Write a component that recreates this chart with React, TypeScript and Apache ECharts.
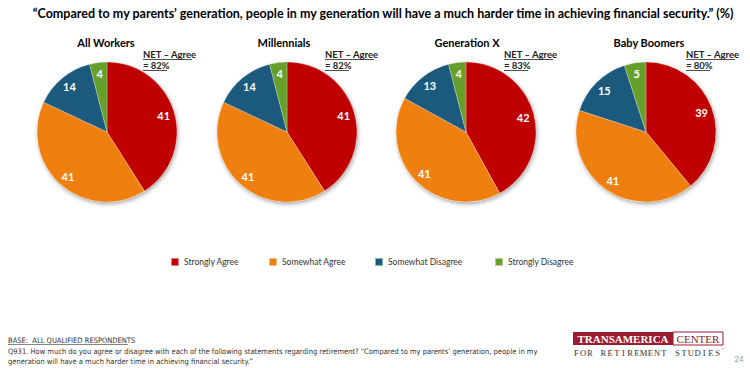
import React, { useEffect, useRef } from "react";
import * as echarts from "echarts";

const categories = ["Strongly Agree", "Somewhat Agree", "Somewhat Disagree", "Strongly Disagree"];
const groups = ["All Workers", "Millennials", "Generation X", "Baby Boomers"];
const allWorkers = [41, 41, 14, 4];
const millennials = [41, 41, 14, 4];
const generationX = [42, 41, 13, 4];
const babyBoomers = [39, 41, 15, 5];
const netAgree = [82, 82, 83, 80];
const groupValues = [allWorkers, millennials, generationX, babyBoomers];

const titleText =
  "\u201cCompared to my parents\u2019 generation, people in my generation will have a much harder time in achieving financial security.\u201d (%)";
const baseText = "BASE:  ALL QUALIFIED RESPONDENTS";
const questionLine1 =
  "Q931. How much do you agree or disagree with each of the following statements regarding retirement? \u201cCompared to my parents\u2019 generation, people in my";
const questionLine2 = "generation will have a much harder time in achieving financial security.\u201d";

const colors = ["#C00000", "#EF7F0F", "#1C5A7D", "#66A02B"];
const centersX = [107, 287, 466, 646];
const netX = [143, 325, 504, 686];
const titleX = [106, 284, 467, 649];
const legendX = [170, 268, 374, 494];
const CY = 132;
const R = 70;
const FONT = "Lato, 'Open Sans', sans-serif";
const NARROW = "'Liberation Sans Narrow', 'DejaVu Sans Condensed', sans-serif";

function txt(x: number, y: number, text: string, font: string, fill: string, align = "left", vAlign = "middle") {
  return {
    type: "text",
    x,
    y,
    silent: true,
    style: {
      text,
      font,
      fill,
      textAlign: align,
      align,
      textVerticalAlign: vAlign,
      verticalAlign: vAlign,
    },
  };
}

function line(x1: number, y1: number, x2: number, y2: number, stroke: string, w = 0.8) {
  return {
    type: "line",
    silent: true,
    shape: { x1, y1, x2, y2 },
    style: { stroke, lineWidth: w },
  };
}

export default function App() {
  const ref = useRef<HTMLDivElement>(null);

  useEffect(() => {
    if (!ref.current) return;
    const chart = echarts.init(ref.current, null, { renderer: "svg" });

    const series: any[] = [];
    groupValues.forEach((vals, gi) => {
      const center = [centersX[gi], CY];
      series.push({
        type: "pie",
        name: "bg" + gi,
        silent: true,
        radius: R,
        center,
        label: { show: false },
        labelLine: { show: false },
        itemStyle: {
          color: "#ffffff",
          shadowBlur: 4,
          shadowOffsetX: 1,
          shadowOffsetY: 2,
          shadowColor: "rgba(0,0,0,0.35)",
        },
        data: [{ value: 1, name: "_bg" }],
      });
      series.push({
        type: "pie",
        name: groups[gi],
        silent: true,
        radius: R,
        center,
        startAngle: 90,
        clockwise: true,
        label: { show: false },
        labelLine: { show: false },
        itemStyle: { borderColor: "rgba(255,255,255,0.5)", borderWidth: 0.5 },
        data: categories.map((c, i) => ({ name: c, value: vals[i], itemStyle: { color: colors[i] } })),
      });
      series.push({
        type: "pie",
        name: groups[gi] + " labels",
        silent: true,
        radius: [42, R],
        center,
        startAngle: 90,
        clockwise: true,
        itemStyle: { color: "rgba(0,0,0,0)" },
        label: {
          show: true,
          position: "inside",
          formatter: "{c}",
          color: "#ffffff",
          fontSize: 11,
          fontWeight: "bold",
          fontFamily: FONT,
        },
        labelLine: { show: false },
        data: categories.map((c, i) => ({ name: c, value: vals[i] })),
      });
    });

    const graphics: any[] = [];
    graphics.push(txt(383, 13, titleText, `bold 12.5px ${FONT}`, "#000000", "center"));
    groups.forEach((g, gi) => {
      graphics.push(txt(titleX[gi], 42, g, `bold 11px ${FONT}`, "#000000", "center"));
      const l1 = "NET \u2013 Agree";
      const l2 = "= " + netAgree[gi] + "%";
      graphics.push(txt(netX[gi], 54, l1, `bold 9.5px ${FONT}`, "#222222", "left"));
      graphics.push(txt(netX[gi], 65, l2, `bold 9.5px ${FONT}`, "#222222", "left"));
      graphics.push(line(netX[gi], 59.5, netX[gi] + 49, 59.5, "#222222", 0.8));
      graphics.push(line(netX[gi], 70.5, netX[gi] + 24, 70.5, "#222222", 0.8));
    });

    // footer
    graphics.push(txt(8, 340, baseText, `7.5px ${NARROW}`, "#333333", "left"));
    graphics.push(line(8, 344.5, 128, 344.5, "#333333", 0.6));
    graphics.push(txt(8, 351, questionLine1, `7.5px ${NARROW}`, "#333333", "left"));
    graphics.push(txt(8, 361, questionLine2, `7.5px ${NARROW}`, "#333333", "left"));

    // logo
    graphics.push({
      type: "rect",
      silent: true,
      shape: { x: 573, y: 332, width: 100, height: 13 },
      style: { fill: "#9B1B30" },
    });
    graphics.push({
      type: "rect",
      silent: true,
      shape: { x: 673, y: 332, width: 50, height: 13 },
      style: { fill: "#ffffff", stroke: "#9B1B30", lineWidth: 1 },
    });
    graphics.push(txt(623, 339, "TRANSAMERICA", `bold 11px 'Liberation Serif', serif`, "#ffffff", "center"));
    graphics.push(txt(698, 339, "CENTER", `11px 'Liberation Serif', serif`, "#8B1A2B", "center"));
    const sub = "FOR RETIREMENT STUDIES";
    const pitch = 148 / sub.length;
    for (let i = 0; i < sub.length; i++) {
      if (sub[i] === " ") continue;
      graphics.push(
        txt(573 + pitch * (i + 0.5), 353, sub[i], `8.5px 'Liberation Serif', serif`, "#333333", "center")
      );
    }
    graphics.push(txt(723, 350, "\u2019", `7px 'Liberation Serif', serif`, "#444444", "center"));
    graphics.push(txt(739, 359, "24", `8px ${FONT}`, "#9a9a9a", "center"));

    chart.setOption({
      animation: false,
      backgroundColor: "#ffffff",
      legend: categories.map((c, i) => ({
        left: legendX[i],
        top: 257,
        padding: 0,
        icon: "rect",
        itemWidth: 8,
        itemHeight: 8,
        selectedMode: false,
        textStyle: { fontSize: 8.5, color: "#333333", fontFamily: FONT },
        data: [{ name: c, itemStyle: { color: colors[i] } }],
      })),
      series,
      graphic: { elements: graphics },
    });

    return () => chart.dispose();
  }, []);

  return (
    <div
      ref={ref}
      style={{ position: "fixed", left: 0, top: 0, width: 750, height: 368, background: "#fff" }}
    />
  );
}
